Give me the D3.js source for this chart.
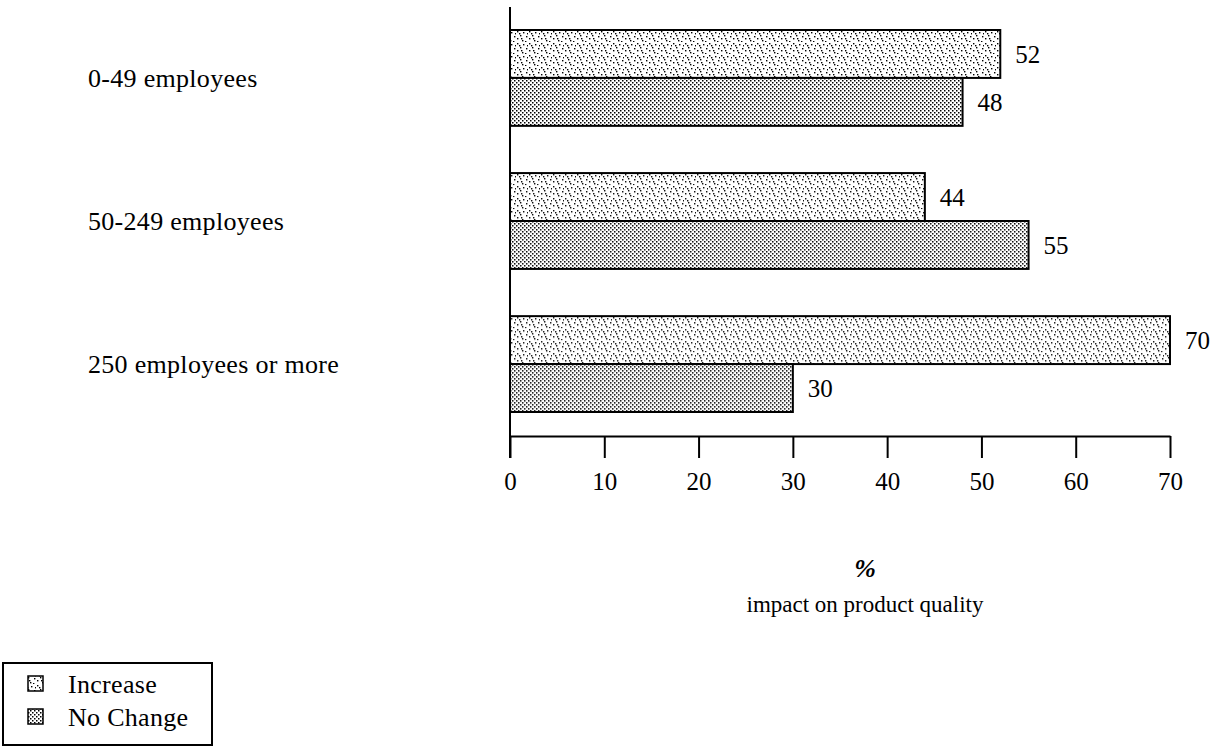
<!DOCTYPE html>
<html><head><meta charset="utf-8">
<script src="https://cdn.jsdelivr.net/npm/d3@7"></script>
<style>
body{margin:0;background:#fff;}
text{font-family:"Liberation Serif","Times New Roman",serif;fill:#000;}
</style></head>
<body><svg id="chart" width="1223" height="750"></svg>
<script>
const categories = ["0-49 employees", "50-249 employees", "250 employees or more"];
const seriesNames = ["Increase", "No Change"];
const increaseValues = [52, 44, 70];
const noChangeValues = [48, 55, 30];
const tickValues = [0, 10, 20, 30, 40, 50, 60, 70];
const axisTitle = ["%", "impact on product quality"];

const svg = d3.select("#chart");
const defs = svg.append("defs");

// sparse dots pattern (Increase)
const p1 = defs.append("pattern").attr("id","pInc").attr("patternUnits","userSpaceOnUse")
  .attr("width",12).attr("height",12);
p1.append("rect").attr("width",12).attr("height",12).attr("fill","#fff");
[[1,1],[7,2],[4,5],[10,6],[1,8],[6,10],[9,11],[3,3],[11,3],[5,8]].forEach(([x,y])=>
  p1.append("rect").attr("x",x).attr("y",y).attr("width",1.4).attr("height",1.4).attr("fill","#000"));

// dense checker pattern (No Change)
const p2 = defs.append("pattern").attr("id","pNo").attr("patternUnits","userSpaceOnUse")
  .attr("width",4).attr("height",4);
p2.append("rect").attr("width",4).attr("height",4).attr("fill","#fff");
[[0,0],[2,2]].forEach(([x,y])=>
  p2.append("rect").attr("x",x).attr("y",y).attr("width",1.5).attr("height",1.5).attr("fill","#000"));

const x = d3.scaleLinear().domain([0,70]).range([510,1170]);
const y0 = d3.scaleBand().domain(categories).range([30,412]).paddingInner(0.33).paddingOuter(0);
const y1 = d3.scaleBand().domain(seriesNames).range([0,y0.bandwidth()]);

const data = categories.map((c,i)=>({cat:c, vals:[{s:"Increase",v:increaseValues[i]},{s:"No Change",v:noChangeValues[i]}]}));
const fills = {"Increase":"url(#pInc)","No Change":"url(#pNo)"};

const g = svg.append("g");
const groups = g.selectAll("g.grp").data(data).join("g").attr("class","grp")
  .attr("transform",d=>`translate(0,${y0(d.cat)})`);
groups.selectAll("rect").data(d=>d.vals).join("rect")
  .attr("x",x(0)).attr("y",d=>y1(d.s)).attr("width",d=>x(d.v)-x(0)).attr("height",y1.bandwidth())
  .attr("fill",d=>fills[d.s]).attr("stroke","#000").attr("stroke-width",2);
groups.selectAll("text.val").data(d=>d.vals).join("text").attr("class","val")
  .attr("x",d=>x(d.v)+15).attr("y",d=>y1(d.s)+y1.bandwidth()/2).attr("dy","0.35em")
  .attr("font-size",25).text(d=>d.v);

// category labels
svg.selectAll("text.cat").data(categories).join("text").attr("class","cat")
  .attr("x",88).attr("y",d=>y0(d)+y0.bandwidth()/2).attr("dy","0.35em")
  .attr("font-size",26).attr("letter-spacing",0.3).text(d=>d);

// axes
svg.append("line").attr("x1",x(0)).attr("x2",x(0)).attr("y1",7).attr("y2",458)
  .attr("stroke","#000").attr("stroke-width",2);
const xAxis = svg.append("g").attr("transform","translate(0,436)")
  .call(d3.axisBottom(x).tickValues(tickValues).tickSize(22).tickPadding(14).tickSizeOuter(0));
xAxis.select(".domain").attr("stroke-width",2);
xAxis.selectAll(".tick line").attr("stroke-width",2);
xAxis.selectAll(".tick text").attr("font-size",25).attr("font-family","Liberation Serif");

// axis title
svg.append("text").attr("x",865).attr("y",577).attr("text-anchor","middle")
  .attr("font-size",26).attr("font-style","italic").attr("font-weight","bold").text(axisTitle[0]);
svg.append("text").attr("x",865).attr("y",612).attr("text-anchor","middle")
  .attr("font-size",23).text(axisTitle[1]);

// legend
const lg = svg.append("g");
lg.append("rect").attr("x",3).attr("y",663).attr("width",209).attr("height",82)
  .attr("fill","#fff").attr("stroke","#000").attr("stroke-width",2);
seriesNames.forEach((s,i)=>{
  const yy = 684 + i*33;
  lg.append("rect").attr("x",28).attr("y",yy-8).attr("width",15).attr("height",15)
    .attr("fill",fills[s]).attr("stroke","#000").attr("stroke-width",1.5);
  lg.append("text").attr("x",68).attr("y",yy).attr("dy","0.35em").attr("font-size",26)
    .attr("letter-spacing",0.3).text(s);
});
</script></body></html>
